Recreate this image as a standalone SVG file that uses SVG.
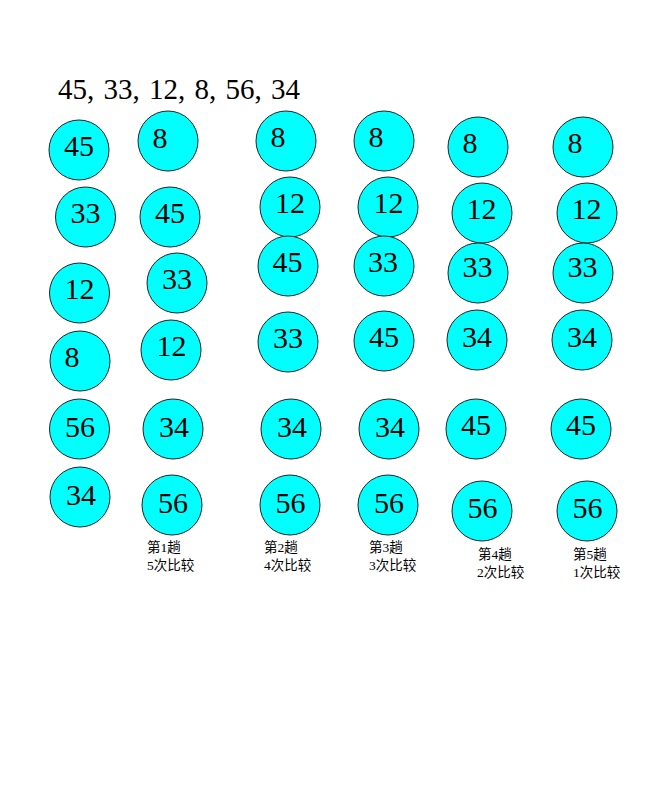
<svg xmlns="http://www.w3.org/2000/svg" width="660" height="800" viewBox="0 0 660 800">
<style>
.n circle{fill:#00FFFF;stroke:#222;stroke-width:1}
.n text{font-family:"Liberation Serif","Noto Sans CJK SC",serif;font-size:30px;fill:#000;text-anchor:middle}
.t{font-family:"Liberation Serif","Noto Sans CJK SC",serif;font-size:29px;fill:#000}
.lb{font-family:"Liberation Serif","Noto Sans CJK SC",serif;font-size:13.5px;fill:#000}
</style>
<rect width="660" height="800" fill="#fff"/>
<text class="t" x="58" y="99" word-spacing="2">45, 33, 12, 8, 56, 34</text>
<g id="connectors"></g>
<!-- column 1 -->
<g id="c1n1" class="n"><circle cx="79" cy="150" r="30"/><text x="79" y="156">45</text></g>
<g id="c1n2" class="n"><circle cx="85.5" cy="217" r="30"/><text x="85.5" y="223">33</text></g>
<g id="c1n3" class="n"><circle cx="79.5" cy="293" r="30"/><text x="79.5" y="299">12</text></g>
<g id="c1n4" class="n"><circle cx="80" cy="361" r="30"/><text x="72" y="367">8</text></g>
<g id="c1n5" class="n"><circle cx="79.5" cy="429" r="30"/><text x="80" y="437">56</text></g>
<g id="c1n6" class="n"><circle cx="80" cy="497" r="30"/><text x="81" y="505">34</text></g>
<!-- column 2 -->
<g id="c2n1" class="n"><circle cx="168" cy="141" r="30"/><text x="160" y="148">8</text></g>
<g id="c2n2" class="n"><circle cx="170" cy="217" r="30"/><text x="170" y="223">45</text></g>
<g id="c2n3" class="n"><circle cx="177" cy="283" r="30"/><text x="177" y="289">33</text></g>
<g id="c2n4" class="n"><circle cx="171" cy="350" r="30"/><text x="171.5" y="356">12</text></g>
<g id="c2n5" class="n"><circle cx="173" cy="429" r="30"/><text x="174" y="437">34</text></g>
<g id="c2n6" class="n"><circle cx="172" cy="505" r="30"/><text x="173" y="513">56</text></g>
<g id="lab1"><text class="lb" x="147" y="552">第1趟</text><text class="lb" x="147" y="570">5次比较</text></g>
<!-- column 3 -->
<g id="c3n1" class="n"><circle cx="286" cy="141" r="30"/><text x="278" y="147">8</text></g>
<g id="c3n2" class="n"><circle cx="290" cy="207" r="30"/><text x="290" y="213">12</text></g>
<g id="c3n3" class="n"><circle cx="288" cy="266" r="30"/><text x="287.5" y="272">45</text></g>
<g id="c3n4" class="n"><circle cx="288" cy="342" r="30"/><text x="288" y="348">33</text></g>
<g id="c3n5" class="n"><circle cx="291" cy="429" r="30"/><text x="292" y="437">34</text></g>
<g id="c3n6" class="n"><circle cx="290" cy="505" r="30"/><text x="290.5" y="513">56</text></g>
<g id="lab2"><text class="lb" x="264" y="552">第2趟</text><text class="lb" x="264" y="570">4次比较</text></g>
<!-- column 4 -->
<g id="c4n1" class="n"><circle cx="384" cy="141" r="30"/><text x="376" y="147">8</text></g>
<g id="c4n2" class="n"><circle cx="388" cy="207" r="30"/><text x="388.5" y="213">12</text></g>
<g id="c4n3" class="n"><circle cx="384" cy="266" r="30"/><text x="383" y="272">33</text></g>
<g id="c4n4" class="n"><circle cx="384" cy="341" r="30"/><text x="384" y="347">45</text></g>
<g id="c4n5" class="n"><circle cx="389" cy="429" r="30"/><text x="390" y="437">34</text></g>
<g id="c4n6" class="n"><circle cx="388" cy="505" r="30"/><text x="389" y="513">56</text></g>
<g id="lab3"><text class="lb" x="369" y="552">第3趟</text><text class="lb" x="369" y="570">3次比较</text></g>
<!-- column 5 -->
<g id="c5n1" class="n"><circle cx="478" cy="147" r="30"/><text x="470" y="153">8</text></g>
<g id="c5n2" class="n"><circle cx="482" cy="213" r="30"/><text x="481.5" y="219">12</text></g>
<g id="c5n3" class="n"><circle cx="478" cy="273" r="30"/><text x="477.5" y="277">33</text></g>
<g id="c5n4" class="n"><circle cx="477" cy="340" r="30"/><text x="477" y="347">34</text></g>
<g id="c5n5" class="n"><circle cx="476" cy="429" r="30"/><text x="476" y="435">45</text></g>
<g id="c5n6" class="n"><circle cx="482" cy="511" r="30"/><text x="482.5" y="518">56</text></g>
<g id="lab4"><text class="lb" x="478" y="559">第4趟</text><text class="lb" x="477" y="577">2次比较</text></g>
<!-- column 6 -->
<g id="c6n1" class="n"><circle cx="583" cy="147" r="30"/><text x="575" y="153">8</text></g>
<g id="c6n2" class="n"><circle cx="587" cy="213" r="30"/><text x="586.5" y="219">12</text></g>
<g id="c6n3" class="n"><circle cx="583" cy="273" r="30"/><text x="582.5" y="277">33</text></g>
<g id="c6n4" class="n"><circle cx="582" cy="340" r="30"/><text x="582" y="347">34</text></g>
<g id="c6n5" class="n"><circle cx="581" cy="429" r="30"/><text x="581" y="435">45</text></g>
<g id="c6n6" class="n"><circle cx="587" cy="511" r="30"/><text x="587.5" y="518">56</text></g>
<g id="lab5"><text class="lb" x="573" y="559">第5趟</text><text class="lb" x="573" y="577">1次比较</text></g>
</svg>
